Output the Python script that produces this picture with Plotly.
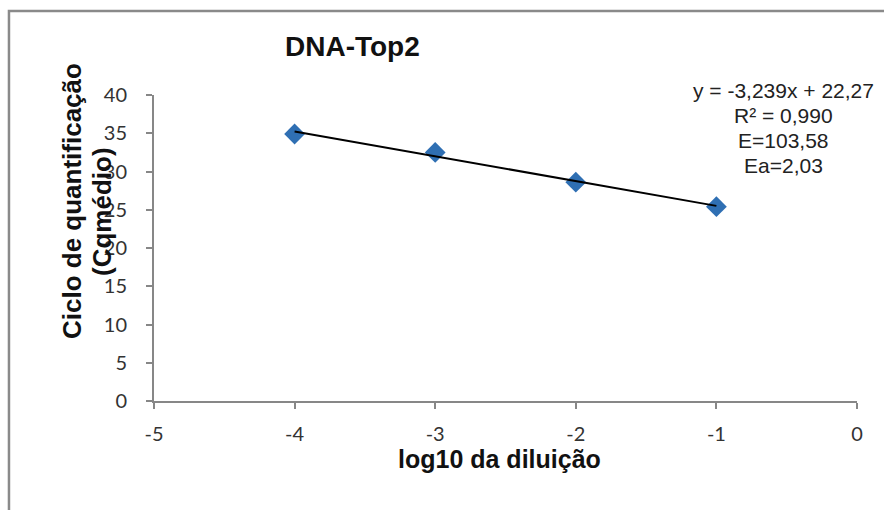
import plotly.graph_objects as go

# qPCR standard curve: log10 of the dilution vs mean quantification cycle
log_dilution = [-4, -3, -2, -1]
cq_mean = [34.9, 32.5, 28.6, 25.4]

# linear trendline reported for the curve
slope = -3.239
intercept = 22.27
r_squared = 0.990
efficiency = 103.58
amplification = 2.03

x_ticks = [-5, -4, -3, -2, -1, 0]
y_ticks = [0, 5, 10, 15, 20, 25, 30, 35, 40]


def br(v, nd):
    return f"{v:.{nd}f}".replace(".", ",")


fit_x = [min(log_dilution), max(log_dilution)]
fit_y = [slope * x + intercept for x in fit_x]

fig = go.Figure()
fig.add_trace(go.Scatter(
    x=log_dilution, y=cq_mean, mode="markers",
    marker=dict(symbol="diamond", size=16, color="#2F6FB3"),
    showlegend=False, hoverinfo="skip",
))
fig.add_trace(go.Scatter(
    x=fit_x, y=fit_y, mode="lines",
    line=dict(color="#000000", width=2),
    showlegend=False, hoverinfo="skip",
))

axis_col = "#878787"
tick_font = dict(family="Lato", size=20, color="#333333")
fig.update_xaxes(
    range=[-5, 0], tickvals=x_ticks, ticktext=[str(v) for v in x_ticks],
    showgrid=False, zeroline=False, showline=True, linecolor=axis_col, linewidth=2,
    ticks="outside", ticklen=6, tickwidth=2, tickcolor=axis_col,
    tickfont=tick_font, ticklabelstandoff=8,
)
fig.update_yaxes(
    range=[0, 40], tickvals=y_ticks, ticktext=[str(v) for v in y_ticks],
    showgrid=False, zeroline=False, showline=True, linecolor=axis_col, linewidth=2,
    ticks="outside", ticklen=6, tickwidth=2, tickcolor=axis_col,
    tickfont=tick_font, ticklabelstandoff=15,
)

bold = dict(family="Liberation Sans", color="#111111")
eq_lines = [
    f"y = {br(slope, 3)}x + {br(intercept, 2)}",
    f"R² = {br(r_squared, 3)}",
    f"E={br(efficiency, 2)}",
    f"Ea={br(amplification, 2)}",
]
eq_y = [1.0131, 0.9314, 0.8497, 0.768]

annotations = [
    dict(text="<b>DNA-Top2</b>", x=0.2817, y=1.157, font=dict(size=28, **bold)),
    dict(text="<b>Ciclo de quantificação</b>", x=-0.1166, y=0.6536, textangle=-90,
         font=dict(size=26, **bold)),
    dict(text="<b>(Cqmédio)</b>", x=-0.074, y=0.621, textangle=-90,
         font=dict(size=26, **bold)),
    dict(text="<b>log10 da diluição</b>", x=0.4908, y=-0.1895, font=dict(size=25, **bold)),
]
for line, yy in zip(eq_lines, eq_y):
    annotations.append(dict(text=line, x=0.896, y=yy,
                            font=dict(family="Liberation Sans", size=21, color="#222222")))
for a in annotations:
    a.update(xref="paper", yref="paper", xanchor="center", yanchor="middle", showarrow=False)

fig.update_layout(
    width=884, height=510,
    margin=dict(l=154, r=27, t=95, b=109),
    paper_bgcolor="white", plot_bgcolor="white",
    annotations=annotations,
    shapes=[dict(type="rect", xref="paper", yref="paper",
                 x0=-0.2063, x1=1.12, y0=-0.40, y1=1.2745,
                 line=dict(color="#8a8a8a", width=2.5), layer="below")],
)

fig.write_html("out.html")
